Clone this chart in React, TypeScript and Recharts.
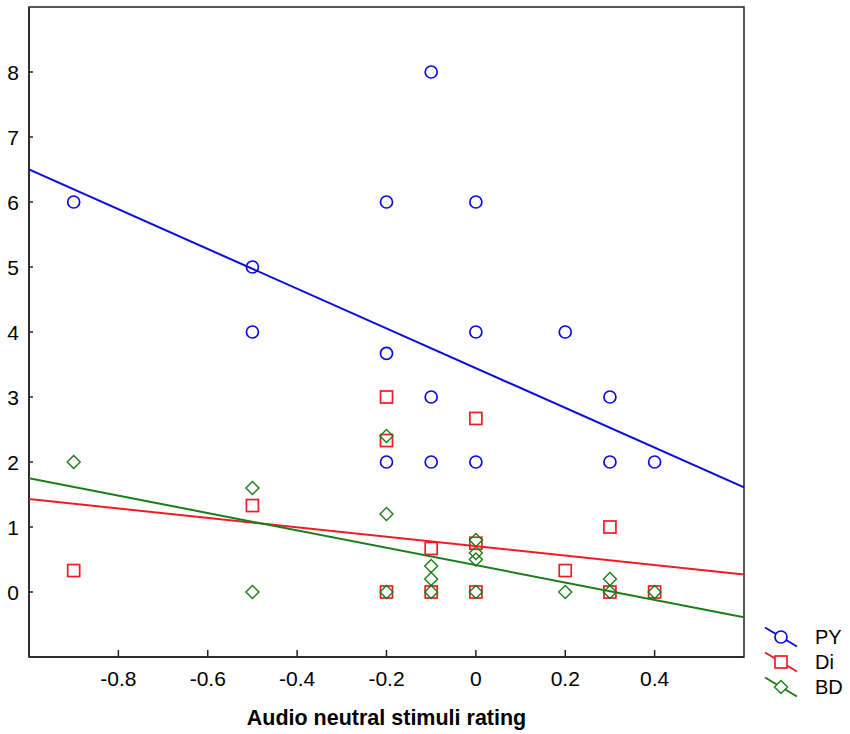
import { Legend, ReferenceArea, Scatter, ScatterChart, XAxis, YAxis } from "recharts";

const FONT = "'Liberation Sans', Arial, sans-serif";

// x = audio neutral stimuli rating, y = score
const pyPoints = [
  { x: -0.9, y: 6 },
  { x: -0.5, y: 5 },
  { x: -0.5, y: 4 },
  { x: -0.2, y: 6 },
  { x: -0.2, y: 3.67 },
  { x: -0.2, y: 2 },
  { x: -0.1, y: 8 },
  { x: -0.1, y: 3 },
  { x: -0.1, y: 2 },
  { x: 0, y: 6 },
  { x: 0, y: 4 },
  { x: 0, y: 2 },
  { x: 0.2, y: 4 },
  { x: 0.3, y: 3 },
  { x: 0.3, y: 2 },
  { x: 0.4, y: 2 },
];

const diPoints = [
  { x: -0.9, y: 0.33 },
  { x: -0.5, y: 1.33 },
  { x: -0.2, y: 3 },
  { x: -0.2, y: 2.33 },
  { x: -0.2, y: 0 },
  { x: -0.1, y: 0.67 },
  { x: -0.1, y: 0 },
  { x: 0, y: 2.67 },
  { x: 0, y: 0.75 },
  { x: 0, y: 0 },
  { x: 0.2, y: 0.33 },
  { x: 0.3, y: 1 },
  { x: 0.3, y: 0 },
  { x: 0.4, y: 0 },
];

const bdPoints = [
  { x: -0.9, y: 2 },
  { x: -0.5, y: 1.6 },
  { x: -0.5, y: 0 },
  { x: -0.2, y: 2.4 },
  { x: -0.2, y: 1.2 },
  { x: -0.2, y: 0 },
  { x: -0.1, y: 0.4 },
  { x: -0.1, y: 0.2 },
  { x: -0.1, y: 0 },
  { x: 0, y: 0.8 },
  { x: 0, y: 0.6 },
  { x: 0, y: 0.5 },
  { x: 0, y: 0 },
  { x: 0.2, y: 0 },
  { x: 0.3, y: 0.2 },
  { x: 0.3, y: 0 },
  { x: 0.4, y: 0 },
];

// fitted regression lines, endpoints at the x-range edges
const pyFit = [
  { x: -1, y: 6.5 },
  { x: 0.6, y: 1.61 },
];
const diFit = [
  { x: -1, y: 1.43 },
  { x: 0.6, y: 0.27 },
];
const bdFit = [
  { x: -1, y: 1.75 },
  { x: 0.6, y: -0.39 },
];

const xDomain = [-1, 0.6];
const yDomain = [-1, 9];
const xTicks = [-0.8, -0.6, -0.4, -0.2, 0, 0.2, 0.4];
const yTicks = [0, 1, 2, 3, 4, 5, 6, 7, 8];

const BLUE = "#0a0ae0";
const RED = "#ee1c24";
const GREEN = "#1a7d1a";

type Marker = "circle" | "square" | "diamond";

const legendItems: { label: string; color: string; marker: Marker }[] = [
  { label: "PY", color: BLUE, marker: "circle" },
  { label: "Di", color: RED, marker: "square" },
  { label: "BD", color: GREEN, marker: "diamond" },
];

function drawMarker(kind: Marker, cx: number, cy: number, color: string, fill = "none") {
  if (kind === "circle") {
    return <circle cx={cx} cy={cy} r={6} fill={fill} stroke={color} strokeWidth={1.7} />;
  }
  if (kind === "square") {
    return <rect x={cx - 6} y={cy - 6} width={12} height={12} fill={fill} stroke={color} strokeWidth={1.7} />;
  }
  return (
    <polygon
      points={`${cx},${cy - 6.5} ${cx + 6.5},${cy} ${cx},${cy + 6.5} ${cx - 6.5},${cy}`}
      fill={fill}
      stroke={color}
      strokeWidth={1.4}
    />
  );
}

const markerShape = (kind: Marker, color: string) => (props: any) =>
  props.cx == null ? <g /> : drawMarker(kind, props.cx, props.cy, color);

const noShape = () => <g />;

function XTick(props: any) {
  const { x, y, payload } = props;
  return (
    <g>
      <line x1={x} y1={y} x2={x} y2={y - 7} stroke="#222" strokeWidth={1.5} />
      <text x={x} y={y + 29} textAnchor="middle" fontSize={21} fontFamily={FONT} fill="#000">
        {payload.value}
      </text>
    </g>
  );
}

function YTick(props: any) {
  const { x, y, payload } = props;
  return (
    <g>
      <line x1={x} y1={y} x2={x + 4} y2={y} stroke="#222" strokeWidth={1.5} />
      <text x={x - 10} y={y + 7.5} textAnchor="end" fontSize={21} fontFamily={FONT} fill="#000">
        {payload.value}
      </text>
    </g>
  );
}

function XTitle(props: any) {
  const { x, y, width } = props.viewBox;
  return (
    <text x={x + width / 2} y={y + 68} textAnchor="middle" fontSize={21.5} fontWeight="bold" fontFamily={FONT} fill="#000">
      Audio neutral stimuli rating
    </text>
  );
}

function KeyBox() {
  return (
    <svg width={90} height={80} style={{ overflow: "visible" }}>
      {legendItems.map((it, i) => {
        const cy = 12 + i * 25;
        return (
          <g key={it.label}>
            <line x1={5} y1={cy - 9.5} x2={37} y2={cy + 9.5} stroke={it.color} strokeWidth={2} />
            {drawMarker(it.marker, 21, cy, it.color, "#fff")}
            <text x={55} y={cy + 7} fontSize={20} fontFamily={FONT} fill="#000">
              {it.label}
            </text>
          </g>
        );
      })}
    </svg>
  );
}

export default function App() {
  return (
    <div style={{ position: "absolute", left: 0, top: 0, background: "#fff" }}>
      <ScatterChart width={850} height={734} margin={{ top: 7, right: 106, bottom: 0, left: 0 }}>
        <XAxis
          type="number"
          dataKey="x"
          domain={xDomain}
          ticks={xTicks}
          allowDataOverflow
          height={77}
          tickSize={0}
          tickMargin={0}
          tickLine={false}
          tick={<XTick />}
          axisLine={{ stroke: "#222", strokeWidth: 1.5 }}
          label={<XTitle />}
        />
        <YAxis
          type="number"
          dataKey="y"
          domain={yDomain}
          ticks={yTicks}
          allowDataOverflow
          width={29}
          tickSize={0}
          tickMargin={0}
          tickLine={false}
          tick={<YTick />}
          axisLine={{ stroke: "#222", strokeWidth: 1.5 }}
        />
        {/* plot frame */}
        <ReferenceArea
          x1={xDomain[0]}
          x2={xDomain[1]}
          y1={yDomain[0]}
          y2={yDomain[1]}
          fill="none"
          fillOpacity={0}
          stroke="#222"
          strokeWidth={1.5}
        />
        <Scatter name="PY" data={pyPoints} shape={markerShape("circle", BLUE)} isAnimationActive={false} />
        <Scatter name="Di" data={diPoints} shape={markerShape("square", RED)} isAnimationActive={false} />
        <Scatter name="BD" data={bdPoints} shape={markerShape("diamond", GREEN)} isAnimationActive={false} />
        <Scatter data={pyFit} line={{ stroke: BLUE, strokeWidth: 2 }} shape={noShape} legendType="none" isAnimationActive={false} />
        <Scatter data={diFit} line={{ stroke: RED, strokeWidth: 2 }} shape={noShape} legendType="none" isAnimationActive={false} />
        <Scatter data={bdFit} line={{ stroke: GREEN, strokeWidth: 2 }} shape={noShape} legendType="none" isAnimationActive={false} />
        <Legend
          content={<KeyBox />}
          wrapperStyle={{ position: "absolute", left: 760, top: 625, width: 0, height: 0, overflow: "visible" }}
        />
      </ScatterChart>
    </div>
  );
}
